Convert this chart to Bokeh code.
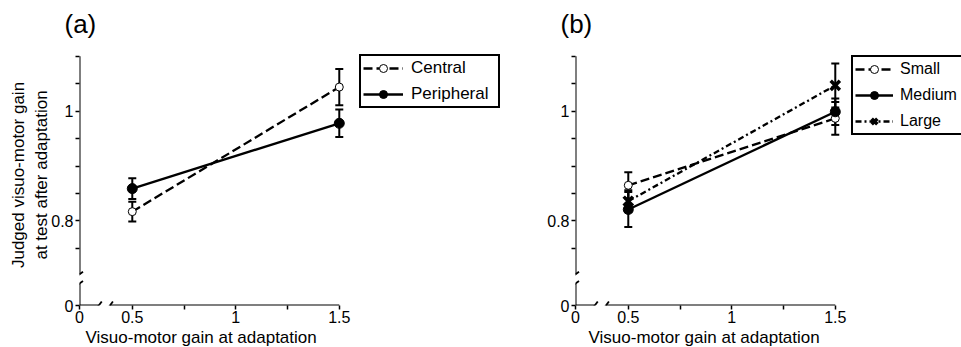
from bokeh.plotting import figure
from bokeh.layouts import row
from bokeh.models import (Range1d, FixedTicker, Whisker, ColumnDataSource, Legend,
                          LegendItem, Arrow, TeeHead, Title)
from bokeh.embed import file_html
from bokeh.resources import INLINE

# ---------------- data ----------------
gain = [0.5, 1.5]

central = [0.817, 1.044]
central_err = [0.018, 0.033]
peripheral = [0.859, 0.978]
peripheral_err = [0.019, 0.025]

small = [0.865, 0.987]
small_err = [0.024, 0.030]
medium = [0.821, 0.999]
medium_err = [0.032, 0.024]
large = [0.836, 1.047]
large_err = [0.020, 0.040]

x_ticks = [0, 0.5, 1, 1.5]
x_tick_labels = ["0", "0.5", "1", "1.5"]
x_minor = [0.75, 1.25]
y_ticks = [0, 0.8, 1.0]
y_tick_labels = ["0", "0.8", "1"]
y_minor = [0.75, 0.85, 0.9, 0.95, 1.05, 1.1]

x_label = "Visuo-motor gain at adaptation"
y_label = "Judged visuo-motor gain\nat test after adaptation"

# ------------- broken-axis placement -------------
FONT = "Liberation Sans"
X_ZERO = 0.245       # where x = 0 sits after the axis break
Y_ZERO = 0.646       # where y = 0 sits after the axis break
Y_END = 1.1          # top of the drawn y axis
X_BREAK = (0.338, 0.392)
Y_BREAK = (0.686, 0.703)
PX_X = 207.0         # pixels per x unit
PX_Y = 546.7         # pixels per y unit
UX = 1 / PX_X
UY = 1 / PX_Y
TOP = 44
FRAME_H = 260


def bx(v):
    return X_ZERO if v == 0 else v


def by(v):
    return Y_ZERO if v == 0 else v


def seg(p, x0, y0, x1, y1, w=2):
    p.add_layout(Arrow(end=None, x_start=x0, y_start=y0, x_end=x1, y_end=y1,
                       line_width=w, line_color="black"))


def draw_axes(p):
    # y axis with break
    seg(p, X_ZERO, Y_ZERO, X_ZERO, Y_BREAK[0])
    seg(p, X_ZERO, Y_BREAK[1], X_ZERO, Y_END)
    for yb in Y_BREAK:
        seg(p, X_ZERO - 3.5 * UX, yb - 2.5 * UY, X_ZERO + 3.5 * UX, yb + 2.5 * UY, 1.8)
    # x axis with break
    seg(p, X_ZERO, Y_ZERO, X_BREAK[0], Y_ZERO)
    seg(p, X_BREAK[1], Y_ZERO, 1.5, Y_ZERO)
    for xb in X_BREAK:
        seg(p, xb - 3 * UX, Y_ZERO - 4 * UY, xb + 3 * UX, Y_ZERO + 4 * UY, 1.8)


def make_panel(title, width, left, frame_w, show_ylabel, xlab_offset):
    x_end = X_ZERO + frame_w / PX_X
    y_top = Y_ZERO + FRAME_H / PX_Y
    p = figure(width=width, height=347, output_backend="svg", toolbar_location=None,
               x_range=Range1d(X_ZERO, x_end), y_range=Range1d(Y_ZERO, y_top),
               min_border_left=left, min_border_right=0,
               min_border_top=TOP, min_border_bottom=42)
    p.outline_line_color = None
    p.grid.visible = False

    p.title.text = title
    p.title.text_font = FONT
    p.title.text_font_size = "26px"
    p.title.text_font_style = "normal"
    p.title.text_color = "black"
    p.title.align = "left"
    p.title.vertical_align = "bottom"
    p.title.offset = -15
    p.title.standoff = 11

    xt = [bx(t) for t in x_ticks]
    yt = [by(t) for t in y_ticks]
    p.xaxis.ticker = FixedTicker(ticks=xt, minor_ticks=x_minor)
    p.yaxis.ticker = FixedTicker(ticks=yt, minor_ticks=y_minor)
    p.xaxis.major_label_overrides = {t: s for t, s in zip(xt, x_tick_labels)}
    p.yaxis.major_label_overrides = {t: s for t, s in zip(yt, y_tick_labels)}

    for ax in (p.xaxis, p.yaxis):
        ax.axis_line_color = None
        ax.major_tick_in = 0
        ax.major_tick_out = 4
        ax.minor_tick_in = 0
        ax.minor_tick_out = 4
        ax.major_tick_line_width = 1.5
        ax.minor_tick_line_width = 1.5
        ax.major_tick_line_color = "black"
        ax.minor_tick_line_color = "black"
        ax.major_label_text_font = FONT
        ax.major_label_text_font_size = "16px"
        ax.major_label_text_color = "black"
        ax.major_label_standoff = 2
        ax.axis_label_text_font = FONT
        ax.axis_label_text_font_size = "17px"
        ax.axis_label_text_font_style = "normal"
        ax.axis_label_text_color = "black"
        ax.axis_label_standoff = -3
    p.xaxis.major_label_standoff = 1
    if show_ylabel:
        p.yaxis.axis_label = y_label
    p.add_layout(Title(text=x_label, align="left", offset=xlab_offset, standoff=0,
                       text_font=FONT, text_font_size="17px", text_font_style="normal",
                       text_color="black"), "below")
    draw_axes(p)
    return p


def add_series(p, y, err, dash, marker, size, fill, lw_marker):
    src = ColumnDataSource(dict(x=gain, y=y,
                                lo=[a - e for a, e in zip(y, err)],
                                hi=[a + e for a, e in zip(y, err)]))
    p.add_layout(Whisker(base="x", lower="lo", upper="hi", source=src,
                         line_width=2, line_color="black",
                         lower_head=TeeHead(size=8, line_width=2, line_color="black"),
                         upper_head=TeeHead(size=8, line_width=2, line_color="black")))
    l = p.line("x", "y", source=src, line_width=2.3, line_color="black", line_dash=dash)
    s = p.scatter("x", "y", source=src, marker=marker, size=size, line_color="black",
                  fill_color=fill, line_width=lw_marker)
    return [l, s]


# ---------------- panel (a) ----------------
pa = make_panel("(a)", 500, 79, 421, True, 6)
ra1 = add_series(pa, central, central_err, "9 4", "circle", 8, "white", 1)
ra2 = add_series(pa, peripheral, peripheral_err, "solid", "circle", 10, "black", 1)
leg_a = Legend(items=[LegendItem(label="Central", renderers=ra1),
                      LegendItem(label="Peripheral", renderers=ra2)],
               location=(280, 197))
# ---------------- panel (b) ----------------
pb = make_panel("(b)", 461, 75, 386, False, 13)
rb1 = add_series(pb, small, small_err, "9 4", "circle", 8, "white", 1)
rb2 = add_series(pb, medium, medium_err, "solid", "circle", 10, "black", 1)
rb3 = add_series(pb, large, large_err, "6 3 2 3", "x", 13, "black", 3.5)
leg_b = Legend(items=[LegendItem(label="Small", renderers=rb1),
                      LegendItem(label="Medium", renderers=rb2),
                      LegendItem(label="Large", renderers=rb3)],
               location=(276, 170))

for p, lg, fs, gw, ls in ((pa, leg_a, "17px", 40, 8), (pb, leg_b, "16px", 38, 7)):
    lg.border_line_color = "black"
    lg.border_line_alpha = 1
    lg.border_line_width = 2
    lg.label_text_font = FONT
    lg.label_text_font_size = fs
    lg.label_text_color = "black"
    lg.glyph_width = gw
    lg.glyph_height = 20
    lg.label_height = 20
    lg.label_width = 85
    lg.spacing = 6
    lg.padding = 2
    lg.margin = 0
    lg.label_standoff = ls
    lg.background_fill_color = "white"
    lg.background_fill_alpha = 1
    p.add_layout(lg)

layout = row(pa, pb)
open("out.html", "w").write(file_html(layout, INLINE))
